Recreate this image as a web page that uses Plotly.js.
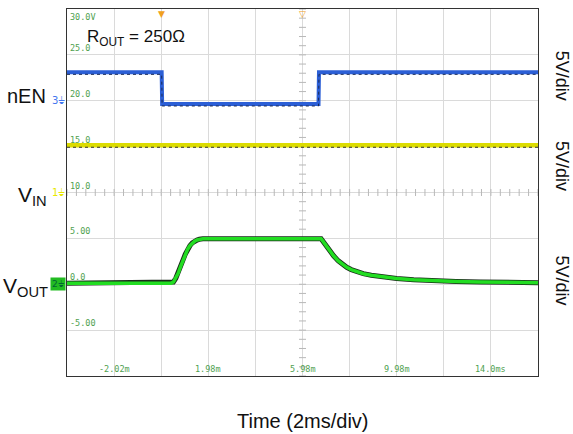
<!DOCTYPE html>
<html>
<head>
<meta charset="utf-8">
<script src="https://cdn.plot.ly/plotly-3.0.1.min.js"></script>
<style>
  html, body { margin: 0; padding: 0; background: #fff; }
  #chart { width: 573px; height: 434px; }
</style>
</head>
<body>
<div id="chart"></div>
<script>
// ---- data ----
const timeEN = [-4.02, 0.0, 0.02, 6.66, 6.68, 15.98];      // ms
const nEN    = [23.1, 23.1, 19.65, 19.65, 23.1, 23.1];     // V (scope display)
const timeVIN = [-4.02, 15.98];
const vIN     = [15.15, 15.15];
const timeOUT = [-4.02, 0.4, 0.5, 0.6, 0.7, 0.8, 0.9, 1.0, 1.1, 1.2, 1.3, 1.4, 1.5, 1.6, 1.75,
                 6.77, 6.85, 6.95, 7.05, 7.15, 7.3, 7.5, 7.7, 7.86, 8.05, 8.3, 8.56, 8.9, 9.27, 9.6, 9.98, 10.7, 11.39, 12.5, 13.52, 14.7, 15.98];
const vOUT    = [0.12, 0.12, 0.25, 0.65, 1.2, 1.9, 2.6, 3.25, 3.8, 4.2, 4.5, 4.7, 4.82, 4.9, 4.95,
                 4.95, 4.65, 4.3, 3.95, 3.6, 3.1, 2.55, 2.1, 1.85, 1.6, 1.35, 1.15, 0.98, 0.84, 0.72, 0.62, 0.48, 0.38, 0.3, 0.25, 0.2, 0.17];
const yLabelVals = [30, 25, 20, 15, 10, 5, 0, -5];
const yLabelText = ["30.0V", "25.0", "20.0", "15.0", "10.0", "5.00", "0.0", "-5.00"];
const xLabelVals = [-2.02, 1.98, 5.98, 9.98, 13.98];
const xLabelText = ["-2.02m", "1.98m", "5.98m", "9.98m", "14.0ms"];
const xRange = [-4.02, 15.98];
const yRange = [-10, 30];

const scopeGreen = "#4f9f4f";
const mono = "DejaVu Sans Mono, monospace";

// minor ticks on the centre lines (1/5 division)
const hTickX = [], hTickY = [];
for (let k = 0; k <= 50; k++) { hTickX.push(xRange[0] + k * 0.4); hTickY.push(10); }
const vTickX = [], vTickY = [];
for (let k = 0; k <= 40; k++) { vTickX.push(5.98); vTickY.push(yRange[0] + k * 1); }

const traces = [
  { x: hTickX, y: hTickY, mode: "markers", hoverinfo: "skip",
    marker: { symbol: "line-ns", size: 5, line: { color: "#b8b8b8", width: 1 } } },
  { x: vTickX, y: vTickY, mode: "markers", hoverinfo: "skip",
    marker: { symbol: "line-ew", size: 5, line: { color: "#b8b8b8", width: 1 } } },
  // VIN (yellow)
  { x: timeVIN, y: vIN, mode: "lines", line: { color: "#dcdc00", width: 4.5 } },
  { x: timeVIN, y: vIN.map(v => v - 0.22), mode: "lines", line: { color: "#333", width: 1, dash: "dot" } },
  // nEN (blue)
  { x: timeEN, y: nEN, mode: "lines", line: { color: "#2c5fd6", width: 4 } },
  { x: timeEN, y: nEN.map(v => v - 0.22), mode: "lines", line: { color: "#1a2a55", width: 1, dash: "dot" } },
  // VOUT (green with dark noise envelope)
  { x: timeOUT, y: vOUT, mode: "lines", line: { color: "#1a2a1a", width: 5 } },
  { x: timeOUT, y: vOUT, mode: "lines", line: { color: "#22dd22", width: 3.5 } }
];

const annotations = [];
yLabelVals.forEach((v, i) => {
  annotations.push({ x: xRange[0], y: v, xref: "x", yref: "y", text: yLabelText[i],
    showarrow: false, xanchor: "left", yanchor: i === 0 ? "top" : "bottom", xshift: 1, yshift: i === 0 ? -1 : 0,
    font: { family: mono, size: 8.5, color: scopeGreen } });
});
xLabelVals.forEach((v, i) => {
  annotations.push({ x: v, y: yRange[0], xref: "x", yref: "y", text: xLabelText[i],
    showarrow: false, xanchor: "center", yanchor: "bottom", yshift: 0,
    font: { family: mono, size: 8.5, color: scopeGreen } });
});
const sans = "Liberation Sans, Arial, sans-serif";
annotations.push(
  { x: -3.25, y: 26.8, xref: "x", yref: "y", text: "R<sub>OUT</sub> = 250Ω", showarrow: false,
    xanchor: "left", yanchor: "middle", font: { family: sans, size: 17, color: "#111" } },
  { x: 0.5, y: 0, xref: "paper", yref: "paper", yanchor: "middle", yshift: -45, text: "Time (2ms/div)",
    showarrow: false, font: { family: sans, size: 20, color: "#111" } },
  // channel labels on the left
  { x: 0, y: 20.5, xref: "paper", yref: "y", xanchor: "right", xshift: -19, text: "nEN", showarrow: false,
    font: { family: sans, size: 20, color: "#111" } },
  { x: 0, y: 9.6, xref: "paper", yref: "y", xanchor: "right", xshift: -18, text: "V<sub>IN</sub>", showarrow: false,
    font: { family: sans, size: 21, color: "#111" } },
  { x: 0, y: -0.3, xref: "paper", yref: "y", xanchor: "right", xshift: -17, text: "V<sub>OUT</sub>", showarrow: false,
    font: { family: sans, size: 21, color: "#111" } },
  // channel markers
  { x: 0, y: 20.0, xref: "paper", yref: "y", xanchor: "right", xshift: 0, text: "3⏚", showarrow: false,
    font: { family: "DejaVu Sans", size: 10, color: "#4477ee" } },
  { x: 0, y: 10.0, xref: "paper", yref: "y", xanchor: "right", xshift: 0, text: "1⏚", showarrow: false,
    font: { family: "DejaVu Sans", size: 10, color: "#e8e800" } },
  { x: 0, y: 0, xref: "paper", yref: "y", xanchor: "right", xshift: -1, text: "2⏚", showarrow: false,
    bgcolor: "#22bb22", borderpad: 1, font: { family: "DejaVu Sans", size: 9, color: "#063" } },
  // trigger markers
  { x: 0, y: 1, xref: "x", yref: "paper", yanchor: "top", text: "▼", showarrow: false, yshift: 2,
    font: { family: "DejaVu Sans", size: 9, color: "#f0a020" } },
  { x: 5.98, y: 1, xref: "x", yref: "paper", yanchor: "top", text: "▽", showarrow: false, yshift: 2,
    font: { family: "DejaVu Sans", size: 9, color: "#f0a020" } }
);
["5V/div", "5V/div", "5V/div"].forEach((t, i) => {
  const ys = [0.818, 0.572, 0.26];
  annotations.push({ x: 1, y: ys[i], xref: "paper", yref: "paper", xanchor: "center", yanchor: "middle",
    xshift: 24, text: t, textangle: 90, showarrow: false, font: { family: sans, size: 18, color: "#111" } });
});

const layout = {
  width: 573, height: 434,
  margin: { l: 67, r: 35, t: 9, b: 58 },
  paper_bgcolor: "#fff", plot_bgcolor: "#fff",
  showlegend: false,
  xaxis: { range: xRange, tick0: -4.02, dtick: 2, showticklabels: false, ticks: "",
    showgrid: true, gridcolor: "#dadada", gridwidth: 1, zeroline: false,
    showline: true, mirror: true, linecolor: "#333", linewidth: 1, fixedrange: true },
  yaxis: { range: yRange, tick0: -10, dtick: 5, showticklabels: false, ticks: "",
    showgrid: true, gridcolor: "#dadada", gridwidth: 1, zeroline: false,
    showline: true, mirror: true, linecolor: "#333", linewidth: 1, fixedrange: true },
  annotations: annotations
};

Plotly.newPlot("chart", traces, layout, { displayModeBar: false, staticPlot: true });
</script>
</body>
</html>
